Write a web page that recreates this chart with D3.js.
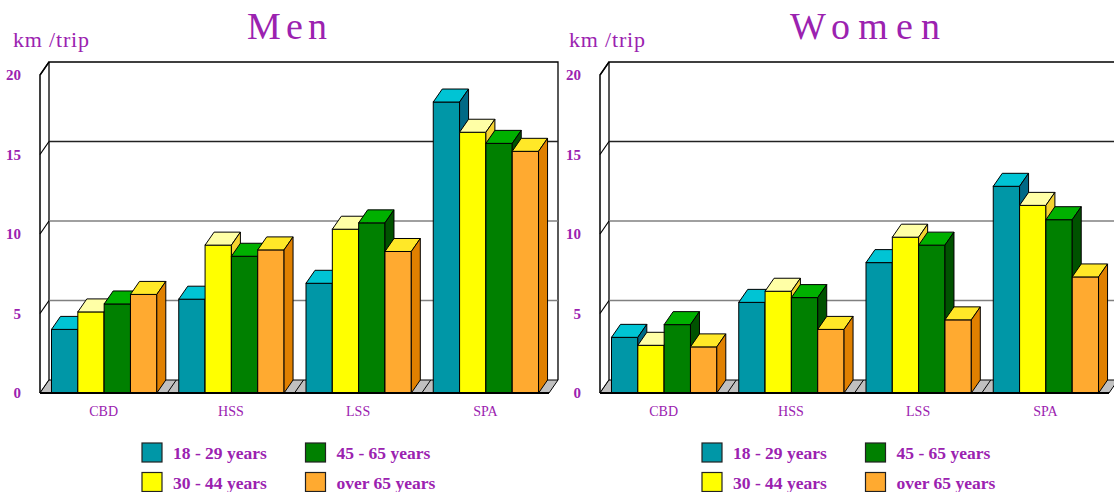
<!DOCTYPE html>
<html>
<head>
<meta charset="utf-8">
<script src="https://cdn.jsdelivr.net/npm/d3@7"></script>
<style>
  body { margin: 0; background: #fff; }
  svg { display: block; }
  text { font-family: "Liberation Serif", "Times New Roman", serif; }
</style>
</head>
<body>
<div class="chart"></div>
<script>
// data (km per trip)
const categories = ['CBD', 'HSS', 'LSS', 'SPA'];
const ageGroups = ['18 - 29 years', '30 - 44 years', '45 - 65 years', 'over 65 years'];
const yTicks = [0, 5, 10, 15, 20];

// one row per age group, one value per category
const menKm = [
  [4.0, 5.9, 6.9, 18.3],
  [5.1, 9.3, 10.3, 16.4],
  [5.6, 8.6, 10.7, 15.7],
  [6.2, 9.0, 8.9, 15.2]
];
const womenKm = [
  [3.5, 5.7, 8.2, 13.0],
  [3.0, 6.4, 9.8, 11.8],
  [4.3, 6.0, 9.3, 10.9],
  [2.9, 4.0, 4.6, 7.3]
];

const colors = [
  {front: '#0097a7', top: '#00c4d4', side: '#006a86'},
  {front: '#ffff00', top: '#ffffa6', side: '#f5d230'},
  {front: '#008000', top: '#00b000', side: '#005200'},
  {front: '#ffaa30', top: '#ffe828', side: '#e08000'}
];

const purple = '#9b22b0';
const width = 1114, height = 492;
const depth = {dx: 9, dy: 13};
const plot = {left: 40, right: 549, top: 75, bottom: 393};

const x = d3.scaleBand()
  .domain(categories)
  .range([0, plot.right - plot.left]);

const xs = d3.scaleBand()
  .domain(d3.range(ageGroups.length))
  .range([11.5, 116.8]);

const y = d3.scaleLinear()
  .domain([0, 20])
  .range([plot.bottom, plot.top]);

const svg = d3.select('.chart').append('svg')
  .attr('width', width)
  .attr('height', height);

drawPanel(0, 'Men', 247, 80, 13, menKm);
drawPanel(560, 'Women', 230, 150, 9, womenKm);

function drawPanel(offset, title, titleX, titleLen, unitX, values) {
  const g = svg.append('g')
    .attr('transform', `translate(${offset}, 0)`);

  const backLeft = plot.left + depth.dx;
  const backRight = plot.right + depth.dx;
  const backTop = y(20) - depth.dy;
  const backBottom = y(0) - depth.dy;

  // back wall
  g.append('path')
    .attr('d', `M${backLeft},${backBottom} V${backTop} H${backRight} V${backBottom}`)
    .attr('fill', '#fff')
    .attr('stroke', '#000')
    .attr('stroke-width', 1.3);

  g.selectAll('.grid')
    .data(yTicks.filter(v => v > 0 && v < 20))
    .enter().append('line')
      .attr('class', 'grid')
      .attr('x1', backLeft)
      .attr('x2', backRight)
      .attr('y1', d => y(d) - depth.dy)
      .attr('y2', d => y(d) - depth.dy)
      .attr('stroke', d => d === 15 ? '#222' : '#808080')
      .attr('stroke-width', 1.3);

  // left wall
  g.append('path')
    .attr('d', `M${plot.left},${y(0)} V${y(20)} L${backLeft},${backTop}`)
    .attr('fill', 'none')
    .attr('stroke', '#000')
    .attr('stroke-width', 1.5);

  g.selectAll('.wall-tick')
    .data(yTicks)
    .enter().append('line')
      .attr('class', 'wall-tick')
      .attr('x1', plot.left)
      .attr('y1', d => y(d))
      .attr('x2', backLeft)
      .attr('y2', d => y(d) - depth.dy)
      .attr('stroke', '#000')
      .attr('stroke-width', 1.2);

  // floor
  g.append('path')
    .attr('d', `M${plot.left},${y(0)} H${plot.right} L${backRight},${backBottom} H${backLeft} Z`)
    .attr('fill', '#c0c0c0')
    .attr('stroke', '#000')
    .attr('stroke-width', 1);

  g.selectAll('.floor-div')
    .data(categories.slice(1))
    .enter().append('line')
      .attr('class', 'floor-div')
      .attr('x1', d => plot.left + x(d))
      .attr('y1', y(0))
      .attr('x2', d => plot.left + x(d) + depth.dx)
      .attr('y2', backBottom)
      .attr('stroke', '#000');

  // bars
  const bars = [];
  categories.forEach((cat, ci) => {
    ageGroups.forEach((age, si) => {
      bars.push({cat: cat, series: si, value: values[si][ci]});
    });
  });

  const bar = g.selectAll('.bar')
    .data(bars)
    .enter().append('g')
      .attr('class', 'bar');

  const bx = d => plot.left + x(d.cat) + xs(d.series);
  const bw = xs.bandwidth();

  bar.append('rect')
    .attr('x', bx)
    .attr('y', d => y(d.value))
    .attr('width', bw)
    .attr('height', d => y(0) - y(d.value))
    .attr('fill', d => colors[d.series].front)
    .attr('stroke', '#000')
    .attr('stroke-width', 1);

  bar.append('path')
    .attr('d', d => {
      const x0 = bx(d), y0 = y(d.value);
      return `M${x0},${y0} L${x0 + depth.dx},${y0 - depth.dy} H${x0 + bw + depth.dx} L${x0 + bw},${y0} Z`;
    })
    .attr('fill', d => colors[d.series].top)
    .attr('stroke', '#000')
    .attr('stroke-width', 1);

  bar.append('path')
    .attr('d', d => {
      const x1 = bx(d) + bw, y0 = y(d.value);
      return `M${x1},${y0} L${x1 + depth.dx},${y0 - depth.dy} V${y(0) - depth.dy} L${x1},${y(0)} Z`;
    })
    .attr('fill', d => colors[d.series].side)
    .attr('stroke', '#000')
    .attr('stroke-width', 1);

  // front baseline
  g.append('line')
    .attr('x1', plot.left)
    .attr('x2', plot.right)
    .attr('y1', y(0))
    .attr('y2', y(0))
    .attr('stroke', '#000')
    .attr('stroke-width', 2);

  // axes (labels only)
  const yAxis = d3.axisLeft(y)
    .tickValues(yTicks)
    .tickSize(0)
    .tickPadding(19);

  const gy = g.append('g')
    .attr('transform', `translate(${plot.left}, 0)`)
    .call(yAxis);
  gy.select('.domain').remove();
  gy.selectAll('text')
    .attr('fill', purple)
    .attr('font-size', 15)
    .attr('font-weight', 'bold')
    .attr('font-family', '"Liberation Serif", serif');

  const xAxis = d3.axisBottom(x)
    .tickSize(0)
    .tickPadding(13);

  const gx = g.append('g')
    .attr('transform', `translate(${plot.left}, ${y(0)})`)
    .call(xAxis);
  gx.select('.domain').remove();
  gx.selectAll('text')
    .attr('fill', purple)
    .attr('font-size', 14)
    .attr('font-family', '"Liberation Serif", serif');

  // titles
  g.append('text')
    .text(title)
    .attr('x', titleX)
    .attr('y', 39)
    .attr('font-size', 38)
    .attr('fill', purple)
    .attr('textLength', titleLen)
    .attr('lengthAdjust', 'spacing');

  g.append('text')
    .text('km /trip')
    .attr('x', unitX)
    .attr('y', 47)
    .attr('font-size', 22)
    .attr('fill', purple)
    .attr('textLength', 76)
    .attr('lengthAdjust', 'spacing');

  // legend
  const legend = g.selectAll('.legend')
    .data(ageGroups)
    .enter().append('g')
      .attr('class', 'legend')
      .attr('transform', (d, i) => `translate(${142 + Math.floor(i / 2) * 163.5}, ${443 + (i % 2) * 29.5})`);

  legend.append('rect')
    .attr('width', 20)
    .attr('height', 19)
    .attr('fill', (d, i) => colors[i].front)
    .attr('stroke', '#222')
    .attr('stroke-width', 1.2);

  legend.append('text')
    .text(d => d)
    .attr('x', 31)
    .attr('y', 16)
    .attr('font-size', 17.5)
    .attr('font-weight', 'bold')
    .attr('fill', purple);
}
</script>
</body>
</html>
